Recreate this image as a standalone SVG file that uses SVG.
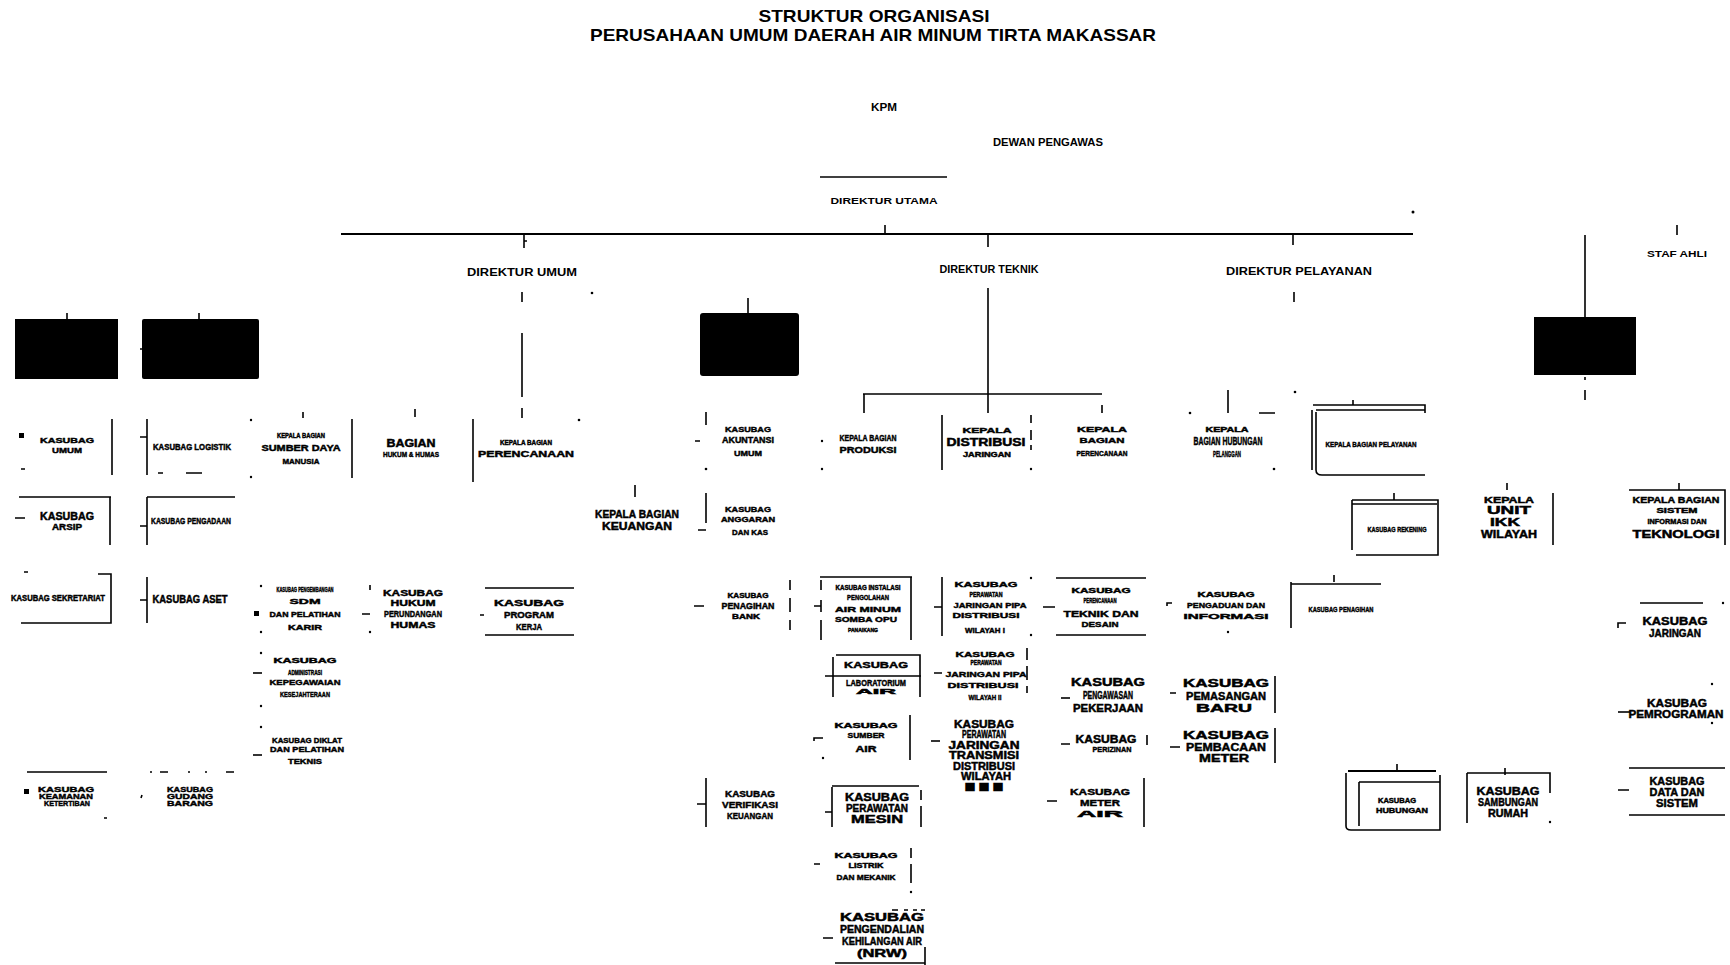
<svg xmlns="http://www.w3.org/2000/svg" width="1730" height="965" viewBox="0 0 1730 965">
<style>
.t{font-family:"Liberation Sans",Arial,sans-serif;font-weight:bold;fill:#000;text-anchor:middle;stroke:#000;stroke-width:0.45}
.h{font-family:"Liberation Sans",Arial,sans-serif;font-weight:bold;fill:#000;text-anchor:middle}
.l{stroke:#000;stroke-width:2;fill:none}
.s{stroke:#000;stroke-width:1.6;fill:none}
.k{fill:#000}
</style>
<rect width="1730" height="965" fill="#fff"/>

<g id="title">
<text class="h" x="874" y="22" font-size="17" textLength="231" lengthAdjust="spacingAndGlyphs">STRUKTUR ORGANISASI</text>
<text class="h" x="873" y="41" font-size="17" textLength="566" lengthAdjust="spacingAndGlyphs">PERUSAHAAN UMUM DAERAH AIR MINUM TIRTA MAKASSAR</text>
</g>

<g id="connectors">
<path class="s" d="M820 177H947"/>
<path class="l" d="M341 234H1413"/>
<path class="s" d="M885 225V234M524 235V248M524 241h3M988 235V247M1293 235V245"/>
<circle class="k" cx="1413" cy="212" r="1.5"/>
<path class="s" d="M522 292V302M522 333V397M522 408V418"/>
<circle class="k" cx="592" cy="293" r="1.3"/><circle class="k" cx="579" cy="420" r="1.3"/>
<path class="s" d="M988 288V413M863 394H1102M864 394V413M1102 405V413"/>
<path class="s" d="M1294 292V302M1585 235V317M1585 377V380M1585 390V400M1677 225V235"/>
<path class="s" d="M748 298V313M67 313V319M199 313V319M140 349h3"/>
<path class="s" d="M706 412V425M695 441h5M706 493V523M698 530h8M694 606h10M635 485V497"/>
<circle class="k" cx="706" cy="469" r="1.3"/>
<path class="s" d="M303 412V418M415 409V417M1228 390V413M1259 413h16M1353 400V405M1394 493V500M1507 483V490M1679 483V490M1334 575V582M1397 764V771M1505 768V775"/>
<circle class="k" cx="1190" cy="413" r="1.3"/><circle class="k" cx="1295" cy="392" r="1.3"/><circle class="k" cx="1274" cy="469" r="1.3"/>
</g>

<g id="n-box-l1"><rect class="k" x="15" y="319" width="103" height="60"/></g>
<g id="n-box-l2"><rect class="k" x="142" y="319" width="117" height="60" rx="2"/></g>
<g id="n-box-m"><rect class="k" x="700" y="313" width="99" height="63" rx="3"/></g>
<g id="n-box-r"><rect class="k" x="1534" y="317" width="102" height="58"/></g>

<g id="n-kpm"><text class="h" x="884" y="111" font-size="11" textLength="26" lengthAdjust="spacingAndGlyphs">KPM</text></g>
<g id="n-dewas"><text class="h" x="1048" y="146" font-size="11" textLength="110" lengthAdjust="spacingAndGlyphs">DEWAN PENGAWAS</text></g>
<g id="n-dirut"><text class="h" x="884" y="204" font-size="9" textLength="107" lengthAdjust="spacingAndGlyphs">DIREKTUR UTAMA</text></g>
<g id="n-dirum"><text class="h" x="522" y="276" font-size="10" textLength="110" lengthAdjust="spacingAndGlyphs">DIREKTUR UMUM</text></g>
<g id="n-dirtek"><text class="h" x="989" y="273" font-size="10" textLength="99" lengthAdjust="spacingAndGlyphs">DIREKTUR TEKNIK</text></g>
<g id="n-dirpel"><text class="h" x="1299" y="275" font-size="11" textLength="146" lengthAdjust="spacingAndGlyphs">DIREKTUR PELAYANAN</text></g>
<g id="n-staf"><text class="h" x="1677" y="257" font-size="9" textLength="60" lengthAdjust="spacingAndGlyphs">STAF AHLI</text></g>

<!-- left column A -->
<g id="n-a1">
<path class="s" d="M112 419V475M21 469h4"/><rect class="k" x="19" y="433" width="5" height="5"/>
<text class="t" x="67" y="443" font-size="8" textLength="54" lengthAdjust="spacingAndGlyphs">KASUBAG</text>
<text class="t" x="67" y="453" font-size="8" textLength="30" lengthAdjust="spacingAndGlyphs">UMUM</text>
</g>
<g id="n-b1">
<path class="s" d="M147 419V475M140 437h7M158 473h5M186 473h16"/>
<text class="t" x="192" y="450" font-size="8.5" textLength="78" lengthAdjust="spacingAndGlyphs">KASUBAG LOGISTIK</text>
</g>
<g id="n-c1">
<path class="s" d="M352 419V478"/><circle class="k" cx="251" cy="420" r="1.2"/><circle class="k" cx="251" cy="477" r="1.2"/>
<text class="t" x="301" y="438" font-size="7" textLength="48" lengthAdjust="spacingAndGlyphs">KEPALA BAGIAN</text>
<text class="t" x="301" y="451" font-size="9" textLength="79" lengthAdjust="spacingAndGlyphs">SUMBER DAYA</text>
<text class="t" x="301" y="464" font-size="8" textLength="37" lengthAdjust="spacingAndGlyphs">MANUSIA</text>
</g>
<g id="n-d1">
<text class="t" x="411" y="447" font-size="10" textLength="49" lengthAdjust="spacingAndGlyphs">BAGIAN</text>
<text class="t" x="411" y="457" font-size="8" textLength="56" lengthAdjust="spacingAndGlyphs">HUKUM &amp; HUMAS</text>
</g>
<g id="n-e1">
<path class="s" d="M473 419V482"/>
<text class="t" x="526" y="445" font-size="7" textLength="52" lengthAdjust="spacingAndGlyphs">KEPALA BAGIAN</text>
<text class="t" x="526" y="457" font-size="9" textLength="96" lengthAdjust="spacingAndGlyphs">PERENCANAAN</text>
</g>

<g id="n-a2">
<path class="s" d="M19 497H111M110 497V545M15 518h10"/>
<text class="t" x="67" y="520" font-size="10" textLength="54" lengthAdjust="spacingAndGlyphs">KASUBAG</text>
<text class="t" x="67" y="530" font-size="9" textLength="30" lengthAdjust="spacingAndGlyphs">ARSIP</text>
</g>
<g id="n-b2">
<path class="s" d="M147 497H235M147 497V545M140 526h7"/>
<text class="t" x="191" y="524" font-size="9" textLength="80" lengthAdjust="spacingAndGlyphs">KASUBAG PENGADAAN</text>
</g>
<g id="n-a3">
<path class="s" d="M98 574H111V623H21M24 572h4"/>
<text class="t" x="58" y="601" font-size="8.5" textLength="94" lengthAdjust="spacingAndGlyphs">KASUBAG SEKRETARIAT</text>
</g>
<g id="n-b3">
<path class="s" d="M147 577V623M140 600h7"/>
<text class="t" x="190" y="603" font-size="10" textLength="75" lengthAdjust="spacingAndGlyphs">KASUBAG ASET</text>
</g>
<g id="n-c2">
<circle class="k" cx="261" cy="586" r="1.2"/><circle class="k" cx="261" cy="632" r="1.2"/><rect class="k" x="254" y="611" width="5" height="5"/>
<text class="t" x="305" y="592" font-size="7" textLength="57" lengthAdjust="spacingAndGlyphs">KASUBAG PENGEMBANGAN</text>
<text class="t" x="305" y="604" font-size="8" textLength="31" lengthAdjust="spacingAndGlyphs">SDM</text>
<text class="t" x="305" y="617" font-size="8" textLength="71" lengthAdjust="spacingAndGlyphs">DAN PELATIHAN</text>
<text class="t" x="305" y="630" font-size="8" textLength="34" lengthAdjust="spacingAndGlyphs">KARIR</text>
</g>
<g id="n-d2">
<path class="s" d="M370 585V590M362 614h8"/><circle class="k" cx="370" cy="632" r="1.2"/>
<text class="t" x="413" y="596" font-size="9" textLength="60" lengthAdjust="spacingAndGlyphs">KASUBAG</text>
<text class="t" x="413" y="606" font-size="9" textLength="45" lengthAdjust="spacingAndGlyphs">HUKUM</text>
<text class="t" x="413" y="617" font-size="9" textLength="58" lengthAdjust="spacingAndGlyphs">PERUNDANGAN</text>
<text class="t" x="413" y="628" font-size="9" textLength="45" lengthAdjust="spacingAndGlyphs">HUMAS</text>
</g>
<g id="n-e2">
<path class="s" d="M485 588H574M485 635H574M480 615h4"/>
<text class="t" x="529" y="606" font-size="9" textLength="70" lengthAdjust="spacingAndGlyphs">KASUBAG</text>
<text class="t" x="529" y="618" font-size="9" textLength="50" lengthAdjust="spacingAndGlyphs">PROGRAM</text>
<text class="t" x="529" y="630" font-size="9" textLength="26" lengthAdjust="spacingAndGlyphs">KERJA</text>
</g>
<g id="n-c3">
<circle class="k" cx="261" cy="653" r="1.2"/><circle class="k" cx="261" cy="706" r="1.2"/><path class="s" d="M253 673h9"/>
<text class="t" x="305" y="663" font-size="7" textLength="63" lengthAdjust="spacingAndGlyphs">KASUBAG</text>
<text class="t" x="305" y="675" font-size="7" textLength="34" lengthAdjust="spacingAndGlyphs">ADMINISTRASI</text>
<text class="t" x="305" y="685" font-size="8" textLength="71" lengthAdjust="spacingAndGlyphs">KEPEGAWAIAN</text>
<text class="t" x="305" y="697" font-size="8" textLength="50" lengthAdjust="spacingAndGlyphs">KESEJAHTERAAN</text>
</g>
<g id="n-c4">
<circle class="k" cx="261" cy="727" r="1.2"/><path class="s" d="M253 755h9"/>
<text class="t" x="307" y="743" font-size="8" textLength="70" lengthAdjust="spacingAndGlyphs">KASUBAG DIKLAT</text>
<text class="t" x="307" y="752" font-size="8" textLength="74" lengthAdjust="spacingAndGlyphs">DAN PELATIHAN</text>
<text class="t" x="305" y="764" font-size="8" textLength="34" lengthAdjust="spacingAndGlyphs">TEKNIS</text>
</g>
<g id="n-a4">
<path class="s" d="M27 772H107M104 818h3"/><rect class="k" x="24" y="789" width="5" height="5"/>
<text class="t" x="66" y="792" font-size="8" textLength="56" lengthAdjust="spacingAndGlyphs">KASUBAG</text>
<text class="t" x="66" y="799" font-size="8" textLength="54" lengthAdjust="spacingAndGlyphs">KEAMANAN</text>
<text class="t" x="67" y="806" font-size="8" textLength="46" lengthAdjust="spacingAndGlyphs">KETERTIBAN</text>
</g>
<g id="n-b4">
<path class="s" d="M150 772h2M160 772h8M188 772h2M205 772h2M226 772h8M141 798l1-3"/>
<text class="t" x="190" y="792" font-size="8" textLength="46" lengthAdjust="spacingAndGlyphs">KASUBAG</text>
<text class="t" x="190" y="799" font-size="8" textLength="46" lengthAdjust="spacingAndGlyphs">GUDANG</text>
<text class="t" x="190" y="806" font-size="8" textLength="46" lengthAdjust="spacingAndGlyphs">BARANG</text>
</g>

<!-- middle column -->
<g id="n-m0">
<text class="t" x="637" y="518" font-size="10" textLength="84" lengthAdjust="spacingAndGlyphs">KEPALA BAGIAN</text>
<text class="t" x="637" y="530" font-size="10" textLength="70" lengthAdjust="spacingAndGlyphs">KEUANGAN</text>
</g>
<g id="n-m1">
<text class="t" x="748" y="432" font-size="8" textLength="46" lengthAdjust="spacingAndGlyphs">KASUBAG</text>
<text class="t" x="748" y="443" font-size="9" textLength="52" lengthAdjust="spacingAndGlyphs">AKUNTANSI</text>
<text class="t" x="748" y="456" font-size="8" textLength="28" lengthAdjust="spacingAndGlyphs">UMUM</text>
</g>
<g id="n-m2">
<text class="t" x="748" y="512" font-size="8" textLength="46" lengthAdjust="spacingAndGlyphs">KASUBAG</text>
<text class="t" x="748" y="522" font-size="8" textLength="54" lengthAdjust="spacingAndGlyphs">ANGGARAN</text>
<text class="t" x="750" y="535" font-size="8" textLength="36" lengthAdjust="spacingAndGlyphs">DAN KAS</text>
</g>
<g id="n-m3">
<path class="s" d="M790 580V590M790 598V612M790 620V630"/>
<text class="t" x="748" y="598" font-size="7" textLength="41" lengthAdjust="spacingAndGlyphs">KASUBAG</text>
<text class="t" x="748" y="609" font-size="9" textLength="53" lengthAdjust="spacingAndGlyphs">PENAGIHAN</text>
<text class="t" x="746" y="619" font-size="7" textLength="28" lengthAdjust="spacingAndGlyphs">BANK</text>
</g>
<g id="n-m4">
<path class="s" d="M706 778V827M697 804h9"/>
<text class="t" x="750" y="797" font-size="9" textLength="50" lengthAdjust="spacingAndGlyphs">KASUBAG</text>
<text class="t" x="750" y="808" font-size="9" textLength="56" lengthAdjust="spacingAndGlyphs">VERIFIKASI</text>
<text class="t" x="750" y="819" font-size="9" textLength="46" lengthAdjust="spacingAndGlyphs">KEUANGAN</text>
</g>

<!-- teknik -->
<g id="n-tk1">
<circle class="k" cx="822" cy="441" r="1.2"/><circle class="k" cx="822" cy="469" r="1.2"/>
<text class="t" x="868" y="441" font-size="9" textLength="57" lengthAdjust="spacingAndGlyphs">KEPALA BAGIAN</text>
<text class="t" x="868" y="453" font-size="9" textLength="57" lengthAdjust="spacingAndGlyphs">PRODUKSI</text>
</g>
<g id="n-tk2">
<path class="s" d="M942 415V470M1031 415V423M1031 430V440M1031 445V450"/><circle class="k" cx="1031" cy="469" r="1.2"/>
<text class="t" x="987" y="433" font-size="8" textLength="49" lengthAdjust="spacingAndGlyphs">KEPALA</text>
<text class="t" x="986" y="446" font-size="10" textLength="79" lengthAdjust="spacingAndGlyphs">DISTRIBUSI</text>
<text class="t" x="987" y="457" font-size="7" textLength="48" lengthAdjust="spacingAndGlyphs">JARINGAN</text>
</g>
<g id="n-tk3">
<text class="t" x="1102" y="432" font-size="8" textLength="50" lengthAdjust="spacingAndGlyphs">KEPALA</text>
<text class="t" x="1102" y="443" font-size="8" textLength="45" lengthAdjust="spacingAndGlyphs">BAGIAN</text>
<text class="t" x="1102" y="456" font-size="8" textLength="51" lengthAdjust="spacingAndGlyphs">PERENCANAAN</text>
</g>
<g id="n-t1">
<path class="s" d="M820 577H912M911 577V640M821 580V590M821 600V612M821 620V640M814 606h7"/>
<text class="t" x="868" y="590" font-size="7" textLength="65" lengthAdjust="spacingAndGlyphs">KASUBAG INSTALASI</text>
<text class="t" x="868" y="600" font-size="8" textLength="42" lengthAdjust="spacingAndGlyphs">PENGOLAHAN</text>
<text class="t" x="868" y="612" font-size="8" textLength="66" lengthAdjust="spacingAndGlyphs">AIR MINUM</text>
<text class="t" x="866" y="622" font-size="8" textLength="62" lengthAdjust="spacingAndGlyphs">SOMBA OPU</text>
<text class="t" x="863" y="632" font-size="6" textLength="30" lengthAdjust="spacingAndGlyphs">PANAIKANG</text>
</g>
<g id="n-t2">
<path class="s" d="M942 577V636M934 607h8"/><circle class="k" cx="1031" cy="578" r="1.2"/><circle class="k" cx="1031" cy="635" r="1.2"/>
<text class="t" x="986" y="587" font-size="8" textLength="63" lengthAdjust="spacingAndGlyphs">KASUBAG</text>
<text class="t" x="986" y="597" font-size="7" textLength="33" lengthAdjust="spacingAndGlyphs">PERAWATAN</text>
<text class="t" x="990" y="608" font-size="8" textLength="73" lengthAdjust="spacingAndGlyphs">JARINGAN PIPA</text>
<text class="t" x="986" y="618" font-size="8" textLength="67" lengthAdjust="spacingAndGlyphs">DISTRIBUSI</text>
<text class="t" x="985" y="633" font-size="8" textLength="40" lengthAdjust="spacingAndGlyphs">WILAYAH I</text>
</g>
<g id="n-t3">
<path class="s" d="M1056 578H1146M1056 635H1146M1043 607h12"/>
<text class="t" x="1101" y="593" font-size="7" textLength="59" lengthAdjust="spacingAndGlyphs">KASUBAG</text>
<text class="t" x="1100" y="603" font-size="7" textLength="33" lengthAdjust="spacingAndGlyphs">PERENCANAAN</text>
<text class="t" x="1101" y="617" font-size="9" textLength="75" lengthAdjust="spacingAndGlyphs">TEKNIK DAN</text>
<text class="t" x="1100" y="627" font-size="8" textLength="37" lengthAdjust="spacingAndGlyphs">DESAIN</text>
</g>
<g id="n-t1b">
<path class="s" d="M836 655H920V697M833 657V697M825 676H921"/>
<text class="t" x="876" y="668" font-size="9" textLength="64" lengthAdjust="spacingAndGlyphs">KASUBAG</text>
<text class="t" x="876" y="686" font-size="9" textLength="60" lengthAdjust="spacingAndGlyphs">LABORATORIUM</text>
<text class="t" x="876" y="694" font-size="7" textLength="40" lengthAdjust="spacingAndGlyphs">AIR</text>
</g>
<g id="n-t2b">
<path class="s" d="M934 673h8M1027 648V660M1027 666V680M1027 686V693"/>
<text class="t" x="985" y="657" font-size="8" textLength="59" lengthAdjust="spacingAndGlyphs">KASUBAG</text>
<text class="t" x="986" y="665" font-size="7" textLength="31" lengthAdjust="spacingAndGlyphs">PERAWATAN</text>
<text class="t" x="986" y="677" font-size="8" textLength="81" lengthAdjust="spacingAndGlyphs">JARINGAN PIPA</text>
<text class="t" x="983" y="688" font-size="8" textLength="71" lengthAdjust="spacingAndGlyphs">DISTRIBUSI</text>
<text class="t" x="985" y="700" font-size="8" textLength="33" lengthAdjust="spacingAndGlyphs">WILAYAH II</text>
</g>
<g id="n-t3b">
<path class="s" d="M1061 698h9"/>
<text class="t" x="1108" y="686" font-size="10" textLength="74" lengthAdjust="spacingAndGlyphs">KASUBAG</text>
<text class="t" x="1108" y="699" font-size="10" textLength="50" lengthAdjust="spacingAndGlyphs">PENGAWASAN</text>
<text class="t" x="1108" y="712" font-size="10" textLength="70" lengthAdjust="spacingAndGlyphs">PEKERJAAN</text>
</g>
<g id="n-t1c">
<path class="s" d="M814 741V738h9M910 715V760"/><circle class="k" cx="823" cy="758" r="1.2"/>
<text class="t" x="866" y="728" font-size="7" textLength="63" lengthAdjust="spacingAndGlyphs">KASUBAG</text>
<text class="t" x="866" y="738" font-size="8" textLength="37" lengthAdjust="spacingAndGlyphs">SUMBER</text>
<text class="t" x="866" y="752" font-size="9" textLength="21" lengthAdjust="spacingAndGlyphs">AIR</text>
</g>
<g id="n-t2c">
<path class="s" d="M931 741h9"/>
<text class="t" x="984" y="728" font-size="10" textLength="60" lengthAdjust="spacingAndGlyphs">KASUBAG</text>
<text class="t" x="984" y="738" font-size="10" textLength="44" lengthAdjust="spacingAndGlyphs">PERAWATAN</text>
<text class="t" x="984" y="749" font-size="10" textLength="71" lengthAdjust="spacingAndGlyphs">JARINGAN</text>
<text class="t" x="984" y="759" font-size="10" textLength="70" lengthAdjust="spacingAndGlyphs">TRANSMISI</text>
<text class="t" x="984" y="770" font-size="10" textLength="62" lengthAdjust="spacingAndGlyphs">DISTRIBUSI</text>
<text class="t" x="986" y="780" font-size="10" textLength="50" lengthAdjust="spacingAndGlyphs">WILAYAH</text>
<text class="t" x="984" y="791" font-size="10" textLength="42" lengthAdjust="spacingAndGlyphs">III</text>
</g>
<g id="n-t3c">
<path class="s" d="M1061 744h9M1147 735V745"/>
<text class="t" x="1106" y="743" font-size="10" textLength="61" lengthAdjust="spacingAndGlyphs">KASUBAG</text>
<text class="t" x="1112" y="752" font-size="8" textLength="39" lengthAdjust="spacingAndGlyphs">PERIZINAN</text>
</g>
<g id="n-t1d">
<path class="s" d="M832 786H919M832 787V827M825 812h7M921 790V800M921 806V827"/>
<text class="t" x="877" y="801" font-size="10" textLength="64" lengthAdjust="spacingAndGlyphs">KASUBAG</text>
<text class="t" x="877" y="812" font-size="10" textLength="62" lengthAdjust="spacingAndGlyphs">PERAWATAN</text>
<text class="t" x="877" y="823" font-size="10" textLength="52" lengthAdjust="spacingAndGlyphs">MESIN</text>
</g>
<g id="n-t3d">
<path class="s" d="M1047 801h10M1144 778V827"/>
<text class="t" x="1100" y="795" font-size="9" textLength="60" lengthAdjust="spacingAndGlyphs">KASUBAG</text>
<text class="t" x="1100" y="806" font-size="9" textLength="40" lengthAdjust="spacingAndGlyphs">METER</text>
<text class="t" x="1100" y="817" font-size="9" textLength="46" lengthAdjust="spacingAndGlyphs">AIR</text>
</g>
<g id="n-t1e">
<path class="s" d="M814 864h6M911 848V858M911 864V883"/><circle class="k" cx="911" cy="892" r="1.2"/>
<text class="t" x="866" y="858" font-size="7" textLength="63" lengthAdjust="spacingAndGlyphs">KASUBAG</text>
<text class="t" x="866" y="868" font-size="7" textLength="35" lengthAdjust="spacingAndGlyphs">LISTRIK</text>
<text class="t" x="866" y="880" font-size="8" textLength="59" lengthAdjust="spacingAndGlyphs">DAN MEKANIK</text>
</g>
<g id="n-t1f">
<path class="s" d="M823 938h10M892 910h6M904 910h4M913 910h4M921 910h4M925 947V965M835 963H925"/>
<text class="t" x="882" y="921" font-size="10" textLength="84" lengthAdjust="spacingAndGlyphs">KASUBAG</text>
<text class="t" x="882" y="933" font-size="10" textLength="84" lengthAdjust="spacingAndGlyphs">PENGENDALIAN</text>
<text class="t" x="882" y="945" font-size="10" textLength="80" lengthAdjust="spacingAndGlyphs">KEHILANGAN AIR</text>
<text class="t" x="882" y="957" font-size="10" textLength="50" lengthAdjust="spacingAndGlyphs">(NRW)</text>
</g>

<!-- pelayanan -->
<g id="n-p1">
<text class="t" x="1227" y="432" font-size="7" textLength="43" lengthAdjust="spacingAndGlyphs">KEPALA</text>
<text class="t" x="1228" y="445" font-size="10" textLength="69" lengthAdjust="spacingAndGlyphs">BAGIAN HUBUNGAN</text>
<text class="t" x="1227" y="457" font-size="9" textLength="28" lengthAdjust="spacingAndGlyphs">PELANGGAN</text>
</g>
<g id="n-p2">
<path class="s" d="M1313 405H1425V413M1316 410H1425M1312 410V470M1316 412V470Q1316 475 1322 475H1425"/>
<text class="t" x="1371" y="447" font-size="8" textLength="91" lengthAdjust="spacingAndGlyphs">KEPALA BAGIAN PELAYANAN</text>
</g>
<g id="n-p3">
<path class="s" d="M1352 500H1438V555H1356M1352 504H1437M1352 500V550"/>
<text class="t" x="1397" y="532" font-size="8" textLength="59" lengthAdjust="spacingAndGlyphs">KASUBAG REKENING</text>
</g>
<g id="n-p4">
<path class="s" d="M1553 493V545"/>
<text class="t" x="1509" y="503" font-size="9" textLength="50" lengthAdjust="spacingAndGlyphs">KEPALA</text>
<text class="t" x="1509" y="514" font-size="10" textLength="44" lengthAdjust="spacingAndGlyphs">UNIT</text>
<text class="t" x="1505" y="526" font-size="10" textLength="30" lengthAdjust="spacingAndGlyphs">IKK</text>
<text class="t" x="1509" y="538" font-size="10" textLength="56" lengthAdjust="spacingAndGlyphs">WILAYAH</text>
</g>
<g id="n-p5">
<path class="s" d="M1629 490H1725V545"/>
<text class="t" x="1676" y="503" font-size="9" textLength="87" lengthAdjust="spacingAndGlyphs">KEPALA BAGIAN</text>
<text class="t" x="1677" y="513" font-size="7" textLength="41" lengthAdjust="spacingAndGlyphs">SISTEM</text>
<text class="t" x="1677" y="524" font-size="7" textLength="59" lengthAdjust="spacingAndGlyphs">INFORMASI DAN</text>
<text class="t" x="1676" y="538" font-size="10" textLength="87" lengthAdjust="spacingAndGlyphs">TEKNOLOGI</text>
</g>
<g id="n-p1b">
<path class="s" d="M1167 606V603h5"/><circle class="k" cx="1228" cy="632" r="1.2"/>
<text class="t" x="1226" y="597" font-size="7" textLength="57" lengthAdjust="spacingAndGlyphs">KASUBAG</text>
<text class="t" x="1226" y="608" font-size="8" textLength="78" lengthAdjust="spacingAndGlyphs">PENGADUAN DAN</text>
<text class="t" x="1226" y="619" font-size="8" textLength="85" lengthAdjust="spacingAndGlyphs">INFORMASI</text>
</g>
<g id="n-p6">
<path class="s" d="M1291 584H1381M1291 582V628"/>
<text class="t" x="1341" y="612" font-size="8" textLength="65" lengthAdjust="spacingAndGlyphs">KASUBAG PENAGIHAN</text>
</g>
<g id="n-p7">
<path class="s" d="M1640 603H1703M1618 628V623h8"/><circle class="k" cx="1723" cy="603" r="1.2"/>
<text class="t" x="1675" y="625" font-size="10" textLength="65" lengthAdjust="spacingAndGlyphs">KASUBAG</text>
<text class="t" x="1675" y="637" font-size="10" textLength="52" lengthAdjust="spacingAndGlyphs">JARINGAN</text>
</g>
<g id="n-p1c">
<path class="s" d="M1275 676V713M1170 693h6"/>
<text class="t" x="1226" y="687" font-size="10" textLength="86" lengthAdjust="spacingAndGlyphs">KASUBAG</text>
<text class="t" x="1226" y="700" font-size="10" textLength="80" lengthAdjust="spacingAndGlyphs">PEMASANGAN</text>
<text class="t" x="1224" y="712" font-size="10" textLength="56" lengthAdjust="spacingAndGlyphs">BARU</text>
</g>
<g id="n-p1d">
<path class="s" d="M1275 728V763M1170 747h10"/>
<text class="t" x="1226" y="739" font-size="10" textLength="86" lengthAdjust="spacingAndGlyphs">KASUBAG</text>
<text class="t" x="1226" y="751" font-size="10" textLength="80" lengthAdjust="spacingAndGlyphs">PEMBACAAN</text>
<text class="t" x="1224" y="762" font-size="10" textLength="50" lengthAdjust="spacingAndGlyphs">METER</text>
</g>
<g id="n-p8">
<path class="s" d="M1618 712h12"/><circle class="k" cx="1712" cy="684" r="1.2"/><circle class="k" cx="1712" cy="723" r="1.2"/>
<text class="t" x="1677" y="707" font-size="10" textLength="60" lengthAdjust="spacingAndGlyphs">KASUBAG</text>
<text class="t" x="1676" y="718" font-size="10" textLength="95" lengthAdjust="spacingAndGlyphs">PEMROGRAMAN</text>
</g>
<g id="n-p9">
<path class="l" d="M1348 771H1436"/>
<path class="s" d="M1346 773V826Q1346 830 1351 830H1440V775M1359 782H1440M1359 782V826"/>
<text class="t" x="1397" y="803" font-size="7" textLength="38" lengthAdjust="spacingAndGlyphs">KASUBAG</text>
<text class="t" x="1402" y="813" font-size="7" textLength="52" lengthAdjust="spacingAndGlyphs">HUBUNGAN</text>
</g>
<g id="n-p10">
<path class="s" d="M1467 773H1550V793M1467 773V823"/><circle class="k" cx="1550" cy="822" r="1.2"/>
<text class="t" x="1508" y="795" font-size="10" textLength="63" lengthAdjust="spacingAndGlyphs">KASUBAG</text>
<text class="t" x="1508" y="806" font-size="10" textLength="60" lengthAdjust="spacingAndGlyphs">SAMBUNGAN</text>
<text class="t" x="1508" y="817" font-size="10" textLength="40" lengthAdjust="spacingAndGlyphs">RUMAH</text>
</g>
<g id="n-p11">
<path class="s" d="M1629 768H1725M1629 815H1725M1618 790h11"/>
<text class="t" x="1677" y="785" font-size="10" textLength="55" lengthAdjust="spacingAndGlyphs">KASUBAG</text>
<text class="t" x="1677" y="796" font-size="10" textLength="55" lengthAdjust="spacingAndGlyphs">DATA DAN</text>
<text class="t" x="1677" y="807" font-size="10" textLength="42" lengthAdjust="spacingAndGlyphs">SISTEM</text>
</g>
</svg>
